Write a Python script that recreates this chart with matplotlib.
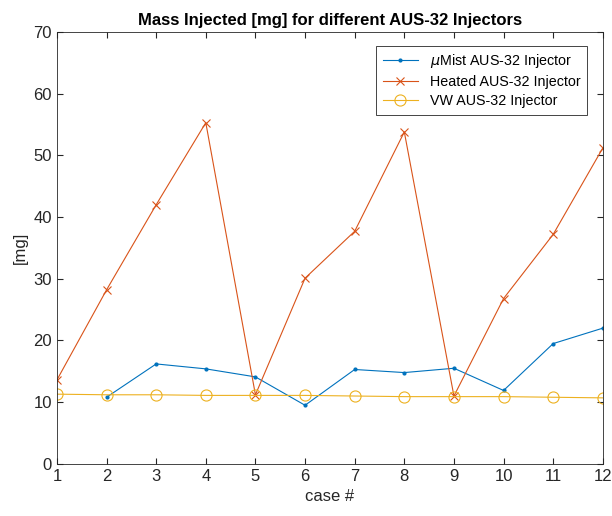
import numpy as np
import matplotlib
matplotlib.use('Agg')
from matplotlib import pyplot as plt

plt.rcParams['font.family'] = ['Liberation Sans', 'DejaVu Sans']

cases = np.arange(1, 13)
mist = [np.nan, 10.8, 16.2, 15.4, 14.1, 9.5, 15.3, 14.8, 15.5, 11.9, 19.5, 22.0]
heated = [13.6, 28.2, 42.0, 55.3, 11.2, 30.1, 37.7, 53.8, 11.0, 26.8, 37.2, 51.2]
vw = [11.3, 11.2, 11.2, 11.1, 11.1, 11.1, 11.0, 10.9, 10.9, 10.9, 10.8, 10.7]

fig = plt.figure(figsize=(6.12, 5.16), dpi=100)
ax = fig.add_axes([0.093, 0.101, 0.892, 0.837])
ax.plot(cases, mist, '.-', color='#0072BD', lw=0.8, ms=4, label=r'$\mu$Mist AUS-32 Injector')
ax.plot(cases, heated, 'x-', color='#D95319', lw=0.8, ms=6, mew=0.8, label='Heated AUS-32 Injector')
ax.plot(cases, vw, 'o-', color='#EDB120', lw=0.8, ms=8, mfc='none', mew=0.8, label='VW AUS-32 Injector')

ax.set_xlim(1, 12)
ax.set_ylim(0, 70)
ax.set_xticks(cases)
ax.set_yticks(range(0, 71, 10))
ax.tick_params(direction='in', length=4, labelsize=12, top=True, right=True, colors='#262626')
for s in ax.spines.values():
    s.set_color('#262626')
    s.set_linewidth(0.6)
ax.set_xlabel('case #', fontsize=12, color='#262626')
ax.set_ylabel('[mg]', fontsize=12, color='#262626')
ax.set_title('Mass Injected [mg] for different AUS-32 Injectors', fontsize=12, fontweight='bold', pad=5)
leg = ax.legend(loc='upper right', bbox_to_anchor=(0.984, 0.985), fontsize=10.3, fancybox=False,
                edgecolor='#262626', framealpha=1, borderpad=0.45, handlelength=2.5, labelspacing=0.35)
leg.get_frame().set_linewidth(0.6)

fig.savefig('out.png', dpi=100)
